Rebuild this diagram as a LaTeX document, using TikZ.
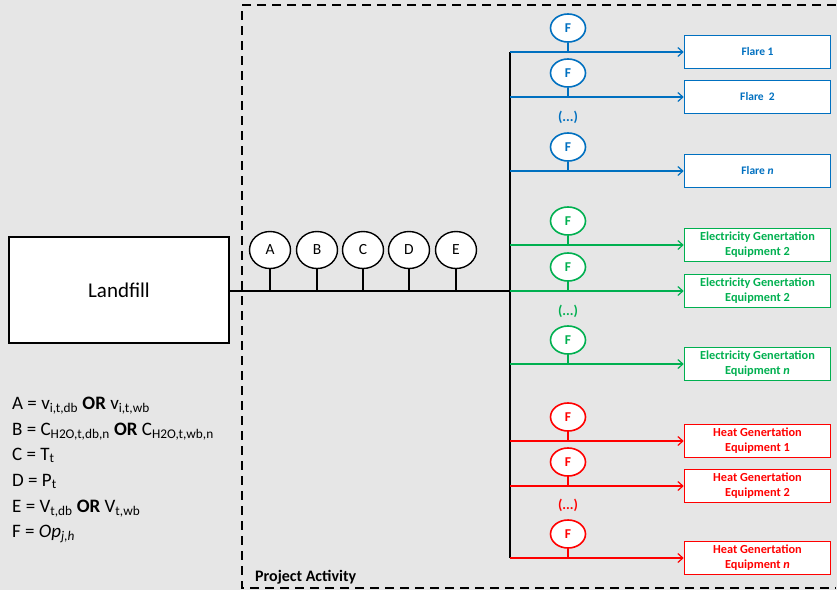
\documentclass[tikz,border=0pt]{standalone}
\usepackage{fontspec}
\setmainfont{Carlito}
\usetikzlibrary{arrows.meta,shapes.geometric}
\definecolor{bg}{HTML}{E6E6E6}
\definecolor{fblue}{HTML}{0070C0}
\definecolor{fgreen}{HTML}{00B050}
\definecolor{fred}{HTML}{FF0000}
\tikzset{
  meter/.style={ellipse, draw=black, fill=white, line width=1.4pt, minimum width=41pt, minimum height=37pt, inner sep=0pt, font=\fontsize{15.5}{15.5}\selectfont},
  fmeter/.style={ellipse, draw=#1, fill=white, line width=1.6pt, minimum width=35pt, minimum height=28pt, inner sep=0pt, text=#1, font=\bfseries\fontsize{13.5}{13.5}\selectfont},
  unit/.style={draw=#1, fill=white, line width=1.6pt, minimum width=146pt, minimum height=33pt, inner sep=0pt, align=center, text=#1, font=\bfseries\fontsize{12.3}{15}\selectfont},
  feed/.style={draw=#1, line width=1.2pt, -{Straight Barb[length=5pt,width=9pt]}},
  stem/.style={draw=#1, line width=1.2pt},
  dots/.style={text=#1, font=\bfseries\fontsize{14}{14}\selectfont},
  frame/.style={draw=black, line width=1.8pt, dash pattern=on 9pt off 6pt}
}
\begin{document}
\begin{tikzpicture}[x=1pt,y=-1pt]
\fill[bg] (0,0) rectangle (837,590);
\useasboundingbox (0,0) rectangle (837,590);

% project boundary
\draw[frame] (836,5) -- (242,5) -- (242,588) -- (836,588);
\node[anchor=base west, inner sep=0pt, font=\bfseries\fontsize{16}{16}\selectfont] (pa) at (255,581) {Project Activity};

% landfill
\node[draw=black, fill=white, line width=1.4pt, minimum width=220pt, minimum height=106pt, inner sep=0pt, font=\fontsize{21}{21}\selectfont] (lf) at (119,290) {Landfill};

% main header and bus
\coordinate (hend) at (510,291);
\coordinate (btop) at (510,52);
\coordinate (bbot) at (510,558);
\draw[line width=1.4pt] (lf.east |- hend) -- (hend);
\draw[line width=1.4pt] (btop) -- (bbot);

% measurement points on the header
\foreach \n/\x in {A/270,B/317,C/363,D/409,E/456}{
  \node[meter] (m\n) at (\x,250) {\n};
  \coordinate (t\n) at (\x,291);
  \draw[line width=1.4pt] (m\n.south) -- (t\n);
}

% destinations: name/colour/line y/box label
\foreach \id/\col/\y/\lab in {
  f1/fblue/52/{\fontsize{11.5}{14}\selectfont Flare 1},
  f2/fblue/97/{\fontsize{11.5}{14}\selectfont Flare\ \ 2},
  f3/fblue/171/{\fontsize{11.5}{14}\selectfont Flare \textit{n}},
  e1/fgreen/245/{Electricity Genertation\\Equipment 2},
  e2/fgreen/291/{Electricity Genertation\\Equipment 2},
  e3/fgreen/364/{Electricity Genertation\\Equipment \textit{n}},
  h1/fred/441/{Heat Genertation\\Equipment 1},
  h2/fred/486/{Heat Genertation\\Equipment 2},
  h3/fred/558/{Heat Genertation\\Equipment \textit{n}}}{
  \coordinate (s\id) at (510,\y);
  \coordinate (j\id) at (568,\y);
  \node[unit=\col] (u\id) at (757.5,\y) {\lab};
  \node[fmeter=\col] (o\id) at (568,\y-24) {F};
  \draw[feed=\col] (s\id) -- (u\id.west);
  \draw[stem=\col] (o\id.south) -- (j\id);
}

\node[dots=fblue] (d1) at (568,117) {(...)};
\node[dots=fgreen] (d2) at (568,311) {(...)};
\node[dots=fred] (d3) at (568,505) {(...)};

% legend
\begin{scope}[every node/.style={anchor=base west, inner sep=0pt, font=\fontsize{19}{19}\selectfont}]
\node (la) at (12,409) {A = v\textsubscript{i,t,db} \textbf{OR} v\textsubscript{i,t,wb}};
\node (lb) at (12,435) {B = C\textsubscript{H2O,t,db,n} \textbf{OR} C\textsubscript{H2O,t,wb,n}};
\node (lc) at (12,460) {C = T\textsubscript{t}};
\node (ld) at (12,486) {D = P\textsubscript{t}};
\node (le) at (12,512) {E = V\textsubscript{t,db} \textbf{OR} V\textsubscript{t,wb}};
\node (lf2) at (12,537) {F = \textit{Op}\textsubscript{\textit{j,h}}};
\end{scope}
\end{tikzpicture}
\end{document}
